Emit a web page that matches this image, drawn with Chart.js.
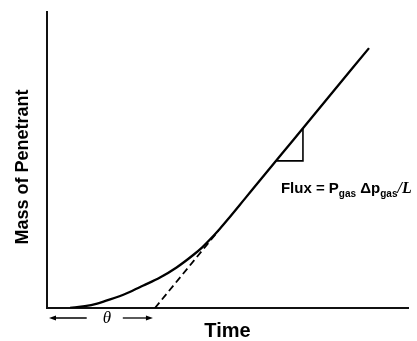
<!DOCTYPE html>
<html>
<head>
<meta charset="utf-8">
<title>Time lag</title>
<script src="https://cdn.jsdelivr.net/npm/chart.js@4.4.0/dist/chart.umd.min.js"></script>
<style>
    html, body { margin: 0; padding: 0; background: #fff; }
</style>
</head>
<body>
<canvas id="chartLag" width="417" height="341"></canvas>
<script>
// mass of penetrant vs time (arbitrary units, 0-100 on both axes)
var curveX = [6.4, 10.5, 13.9, 17.5, 22.1, 26.7, 31.3, 35.9, 40.5, 43.0, 45.2, 47.9, 50, 55, 65, 75, 89.2];
var curveY = [0, 0.6, 1.5, 2.9, 5.0, 7.6, 10.3, 13.7, 17.9, 20.5, 23.2, 26.8, 29.8, 37.2, 52.0, 66.8, 87.8];

// steady-state line extrapolated back to the time axis
var tangentX = [29.9, 47.5];
var tangentY = [0, 26.1];

// slope triangle
var triangleX = [63.5, 70.9, 70.9];
var triangleY = [49.7, 49.7, 60.7];

var timeLag = 29.9;
var fluxLabelAt = { x: 64.8, y: 38.9 };

function toPoints(xs, ys) {
    return xs.map(function (x, i) { return { x: x, y: ys[i] }; });
}

function drawArrow(ctx, fromX, toX, y) {
    var dir = toX > fromX ? 1 : -1;
    ctx.beginPath();
    ctx.moveTo(fromX, y);
    ctx.lineTo(toX - dir * 5, y);
    ctx.stroke();
    ctx.beginPath();
    ctx.moveTo(toX, y);
    ctx.lineTo(toX - dir * 7, y - 2.5);
    ctx.lineTo(toX - dir * 7, y + 2.5);
    ctx.closePath();
    ctx.fill();
}

var annotations = {
    id: "annotations",
    afterDraw: function (chart) {
        var ctx = chart.ctx;
        var xs = chart.scales.x;
        var ys = chart.scales.y;
        var area = chart.chartArea;

        ctx.save();
        ctx.fillStyle = "#000";
        ctx.strokeStyle = "#000";
        ctx.lineWidth = 1.3;

        // theta arrows under the axis
        var ay = area.bottom + 10;
        drawArrow(ctx, xs.getPixelForValue(11), xs.getPixelForValue(0) + 2, ay);
        drawArrow(ctx, xs.getPixelForValue(21), xs.getPixelForValue(timeLag) - 2, ay);
        ctx.font = "italic 17px 'Liberation Serif'";
        ctx.textAlign = "center";
        ctx.textBaseline = "middle";
        ctx.fillText("\u03b8", xs.getPixelForValue(16.6), ay + 1);

        // y axis title
        ctx.save();
        ctx.translate(area.left - 24, (area.top + area.bottom) / 2 + 7);
        ctx.rotate(-Math.PI / 2);
        ctx.font = "bold 18px 'Liberation Sans'";
        ctx.fillText("Mass of Penetrant", 0, 0);
        ctx.restore();

        // flux label
        var px = xs.getPixelForValue(fluxLabelAt.x);
        var py = ys.getPixelForValue(fluxLabelAt.y);
        var parts = [
            { t: "Flux = P", f: "bold 15px 'Liberation Sans'", dy: 0 },
            { t: "gas", f: "bold 10px 'Liberation Sans'", dy: 4 },
            { t: " \u0394p", f: "bold 15px 'Liberation Sans'", dy: 0 },
            { t: "gas", f: "bold 10px 'Liberation Sans'", dy: 4 },
            { t: "/L", f: "italic bold 16px 'Liberation Serif'", dy: 0 }
        ];
        ctx.textAlign = "left";
        ctx.textBaseline = "alphabetic";
        parts.forEach(function (p) {
            ctx.font = p.f;
            ctx.fillText(p.t, px, py + p.dy);
            px += ctx.measureText(p.t).width;
        });

        ctx.restore();
    }
};

new Chart(document.getElementById("chartLag"), {
    type: "line",
    data: {
        datasets: [
            {
                data: toPoints(curveX, curveY),
                borderColor: "#000",
                borderWidth: 2.3,
                pointRadius: 0,
                tension: 0.4,
                cubicInterpolationMode: "monotone"
            },
            {
                data: toPoints(tangentX, tangentY),
                borderColor: "#000",
                borderWidth: 1.8,
                borderDash: [7, 4],
                pointRadius: 0
            },
            {
                data: toPoints(triangleX, triangleY),
                borderColor: "#000",
                borderWidth: 1.6,
                pointRadius: 0
            }
        ]
    },
    options: {
        responsive: false,
        animation: false,
        layout: { padding: { left: 47, right: 9, top: 12, bottom: 0 } },
        plugins: {
            legend: { display: false },
            tooltip: { enabled: false }
        },
        scales: {
            x: {
                type: "linear",
                min: 0,
                max: 100,
                grid: { display: false, drawTicks: false },
                ticks: { display: false },
                border: { display: true, color: "#111", width: 2 },
                title: {
                    display: true,
                    text: "Time",
                    color: "#000",
                    font: { family: "Liberation Sans", size: 20, weight: "bold", lineHeight: 1 },
                    padding: { top: 13, bottom: 0 }
                }
            },
            y: {
                type: "linear",
                min: 0,
                max: 100,
                grid: { display: false, drawTicks: false },
                ticks: { display: false },
                border: { display: true, color: "#111", width: 2 }
            }
        }
    },
    plugins: [annotations]
});
</script>
</body>
</html>
